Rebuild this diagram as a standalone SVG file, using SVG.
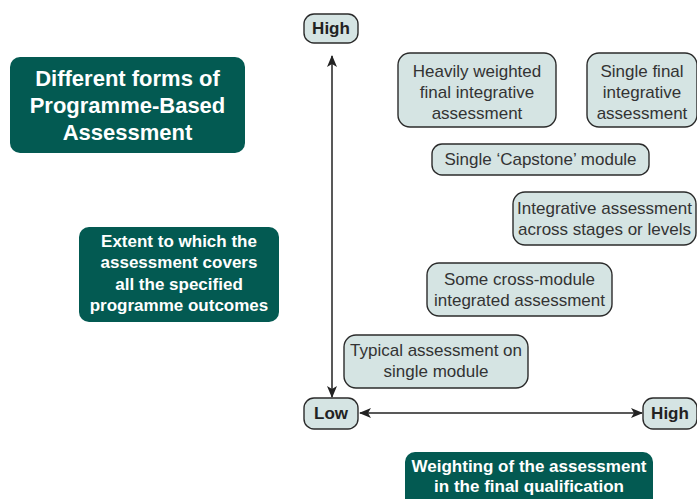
<svg xmlns="http://www.w3.org/2000/svg" width="697" height="499" viewBox="0 0 697 499">
<defs>
<style>
.dark{fill:#035a52;}
.light{fill:#d5e4e3;stroke:#2b2b2b;stroke-width:1.4;}
.wt{fill:#fff;font-family:"Liberation Sans",Arial,sans-serif;font-weight:bold;text-anchor:middle;}
.lt{fill:#333;font-family:"Liberation Sans",Arial,sans-serif;font-size:17px;text-anchor:middle;}
.bt{fill:#222;font-family:"Liberation Sans",Arial,sans-serif;font-size:17px;font-weight:bold;text-anchor:middle;}
.axis{stroke:#222;stroke-width:1.5;fill:none;}
</style>
<marker id="ah" viewBox="0 0 12 10" refX="11" refY="5" markerWidth="12" markerHeight="10" markerUnits="userSpaceOnUse" orient="auto-start-reverse">
<path d="M0,0 L12,5 L0,10 L3,5 Z" fill="#222"/>
</marker>
</defs>
<rect width="697" height="499" fill="#fff"/>
<g id="title">
<rect class="dark" x="10" y="57" width="235" height="96" rx="10"/>
<text class="wt" font-size="22" x="127.5" y="86">Different forms of</text>
<text class="wt" font-size="22" x="127.5" y="113">Programme-Based</text>
<text class="wt" font-size="22" x="127.5" y="140">Assessment</text>
</g>
<g id="extent">
<rect class="dark" x="79" y="227" width="200" height="95" rx="10"/>
<text class="wt" font-size="17" x="179" y="247">Extent to which the</text>
<text class="wt" font-size="17" x="179" y="268">assessment covers</text>
<text class="wt" font-size="17" x="179" y="290">all the specified</text>
<text class="wt" font-size="17" x="179" y="311">programme outcomes</text>
</g>
<g id="weighting">
<rect class="dark" x="405" y="452" width="248" height="60" rx="10"/>
<text class="wt" font-size="17" x="529" y="472">Weighting of the assessment</text>
<text class="wt" font-size="17" x="529" y="492">in the final qualification</text>
</g>
<g id="connectors">
<line class="axis" x1="332" y1="56" x2="332" y2="397" marker-start="url(#ah)" marker-end="url(#ah)"/>
<line class="axis" x1="360" y1="413" x2="642" y2="413" marker-start="url(#ah)" marker-end="url(#ah)"/>
</g>
<g id="high-v">
<rect class="light" x="304" y="14" width="54" height="29" rx="10"/>
<text class="bt" x="331" y="34">High</text>
</g>
<g id="low">
<rect class="light" x="304" y="398" width="54" height="31" rx="10"/>
<text class="bt" x="331" y="419">Low</text>
</g>
<g id="high-h">
<rect class="light" x="643" y="398" width="54" height="31" rx="10"/>
<text class="bt" x="670" y="419">High</text>
</g>
<g id="heavily">
<rect class="light" x="398" y="53" width="158" height="74" rx="12"/>
<text class="lt" x="477" y="77">Heavily weighted</text>
<text class="lt" x="477" y="98">final integrative</text>
<text class="lt" x="477" y="119">assessment</text>
</g>
<g id="single-final">
<rect class="light" x="587" y="53" width="110" height="74" rx="12"/>
<text class="lt" x="642" y="77">Single final</text>
<text class="lt" x="642" y="98">integrative</text>
<text class="lt" x="642" y="119">assessment</text>
</g>
<g id="capstone">
<rect class="light" x="432" y="144" width="217" height="31" rx="10"/>
<text class="lt" x="540.5" y="165">Single ‘Capstone’ module</text>
</g>
<g id="integrative">
<rect class="light" x="513" y="192" width="183" height="53" rx="12"/>
<text class="lt" x="604.5" y="214">Integrative assessment</text>
<text class="lt" x="604.5" y="235">across stages or levels</text>
</g>
<g id="cross-module">
<rect class="light" x="427" y="263" width="185" height="53" rx="12"/>
<text class="lt" x="519.5" y="285">Some cross-module</text>
<text class="lt" x="519.5" y="306">integrated assessment</text>
</g>
<g id="typical">
<rect class="light" x="344" y="335" width="184" height="53" rx="12"/>
<text class="lt" x="436" y="356">Typical assessment on</text>
<text class="lt" x="436" y="377">single module</text>
</g>
</svg>
